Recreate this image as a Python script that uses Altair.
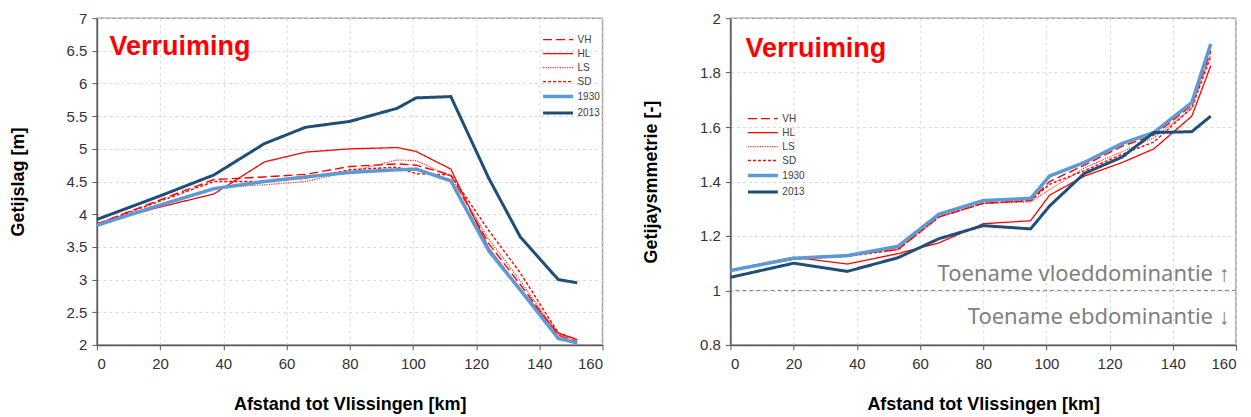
import altair as alt
import pandas as pd

# ---------------- data ----------------
KM = [0, 20, 37, 53, 66, 80, 95, 101, 112, 124, 134, 146, 152]
SERIES = ["VH", "HL", "LS", "SD", "1930", "2013"]

# Getijslag [m]
slag_VH = [3.85, 4.22, 4.53, 4.57, 4.61, 4.73, 4.77, 4.75, 4.60, 3.55, 2.92, 2.15, 2.05]
slag_HL = [3.85, 4.11, 4.31, 4.80, 4.95, 5.00, 5.02, 4.96, 4.69, 3.48, 2.85, 2.18, 2.08]
slag_LS = [3.85, 4.15, 4.40, 4.45, 4.50, 4.65, 4.83, 4.82, 4.58, 3.62, 2.98, 2.15, 2.05]
slag_SD = [3.85, 4.20, 4.50, 4.50, 4.55, 4.68, 4.72, 4.62, 4.60, 3.75, 3.10, 2.18, 2.08]
slag_1930 = [3.83, 4.14, 4.39, 4.50, 4.57, 4.64, 4.68, 4.69, 4.51, 3.44, 2.84, 2.10, 2.03]
slag_2013 = [3.92, 4.28, 4.60, 5.08, 5.33, 5.42, 5.62, 5.78, 5.80, 4.55, 3.65, 3.00, 2.95]

# Getijasymmetrie [-]
asym_VH = [1.075, 1.115, 1.130, 1.150, 1.270, 1.320, 1.330, 1.400, 1.460, 1.530, 1.570, 1.680, 1.880]
asym_HL = [1.075, 1.122, 1.097, 1.135, 1.175, 1.245, 1.256, 1.350, 1.420, 1.470, 1.520, 1.640, 1.825]
asym_LS = [1.075, 1.115, 1.125, 1.155, 1.270, 1.320, 1.325, 1.370, 1.450, 1.510, 1.560, 1.670, 1.870]
asym_SD = [1.075, 1.115, 1.125, 1.150, 1.270, 1.320, 1.330, 1.390, 1.440, 1.500, 1.545, 1.670, 1.860]
asym_1930 = [1.073, 1.118, 1.128, 1.162, 1.280, 1.330, 1.338, 1.420, 1.470, 1.540, 1.580, 1.690, 1.905]
asym_2013 = [1.048, 1.100, 1.070, 1.120, 1.190, 1.238, 1.226, 1.310, 1.430, 1.490, 1.580, 1.583, 1.640]

LEFT_TICKS = [2, 2.5, 3, 3.5, 4, 4.5, 5, 5.5, 6, 6.5, 7]
RIGHT_TICKS = [0.8, 1.0, 1.2, 1.4, 1.6, 1.8, 2.0]
X_TICKS = [0, 20, 40, 60, 80, 100, 120, 140, 160]

COLORS = ["#FF0000", "#FF0000", "#FF3030", "#FF0000", "#5B9BD5", "#1F4E79"]
DASHES = [[9, 4], [1, 0], [1.2, 1.2], [3, 2], [1, 0], [1, 0]]
WIDTHS = [1.4, 1.3, 1.2, 1.4, 3.5, 3.0]


def long_df(series_lists):
    rows = []
    for i, (name, vals) in enumerate(zip(SERIES, series_lists)):
        for k, v in zip(KM, vals):
            rows.append({"km": k, "val": v, "reeks": name, "ord": i})
    return pd.DataFrame(rows)


df_left = long_df([slag_VH, slag_HL, slag_LS, slag_SD, slag_1930, slag_2013])
df_right = long_df([asym_VH, asym_HL, asym_LS, asym_SD, asym_1930, asym_2013])

FONT = "Liberation Sans"
W, H = 506, 327


def panel(df, ydom, yticks, ytitle, fmt, legx, legy, ann):
    xs = alt.Scale(domain=[0, 160], nice=False)
    ys = alt.Scale(domain=ydom, nice=False, zero=False)
    xax = alt.Axis(values=X_TICKS, title="Afstand tot Vlissingen [km]", format="d")
    yax = alt.Axis(values=yticks, title=ytitle, format=fmt)
    x = alt.X("km:Q", scale=xs, axis=xax)
    y = alt.Y("val:Q", scale=ys, axis=yax)
    legend = alt.Legend(title=None, orient="none", legendX=legx, legendY=legy,
                        symbolType="M-2,0H2", symbolSize=225, labelFontSize=10,
                        labelFont=FONT, labelColor="#404040", rowPadding=0,
                        labelOffset=10, padding=0)
    lines = alt.Chart(df).mark_line().encode(
        x=x, y=y,
        color=alt.Color("reeks:O", scale=alt.Scale(type="ordinal", domain=SERIES, range=COLORS), legend=legend),
        strokeDash=alt.StrokeDash("reeks:O", scale=alt.Scale(type="ordinal", domain=SERIES, range=DASHES), legend=legend),
        strokeWidth=alt.StrokeWidth("reeks:O", scale=alt.Scale(type="ordinal", domain=SERIES, range=WIDTHS), legend=legend),
        order="ord:Q",
    )
    layers = [lines]
    for (kx, vy, txt, size, weight, color, align, font) in ann:
        tdf = pd.DataFrame({"km": [kx], "val": [vy], "t": [txt]})
        layers.append(alt.Chart(tdf).mark_text(
            align=align, baseline="alphabetic", fontSize=size, fontWeight=weight,
            color=color, font=font).encode(
            x=alt.X("km:Q", scale=xs, axis=xax),
            y=alt.Y("val:Q", scale=ys, axis=yax),
            text="t:N"))
    return layers, ys, yax


left_layers, _, _ = panel(df_left, [2, 7], LEFT_TICKS, "Getijslag [m]", ".1~f", 452, 13,
                          [(4, 6.43, "Verruiming", 27, "bold", "#FF0000", "left", FONT)])

right_layers, rys, ryax = panel(df_right, [0.8, 2.0], RIGHT_TICKS, "Getijaysmmetrie [-]", ".1~f", 23, 92,
                                [(4.75, 1.857, "Verruiming", 27, "bold", "#FF0000", "left", FONT),
                                 (158, 1.035, "Toename vloeddominantie \u2191", 22, "normal", "#808080", "right", "Noto Sans"),
                                 (158, 0.877, "Toename ebdominantie \u2193", 22, "normal", "#808080", "right", "Noto Sans")])

ref_df = pd.DataFrame({"val": [1.0]})
rule = alt.Chart(ref_df).mark_rule(color="#808080", strokeDash=[4, 3], strokeWidth=1).encode(
    y=alt.Y("val:Q", scale=rys, axis=ryax))

left = alt.layer(*left_layers).properties(width=W, height=H)
right = alt.layer(*right_layers, rule).properties(width=W, height=H)

chart = alt.hconcat(left, right, spacing=37).resolve_scale(
    color="independent", strokeDash="independent", strokeWidth="independent"
).properties(
    padding={"left": 0, "top": 2, "right": 5, "bottom": 0},
    background="white",
).configure_view(
    stroke="#a0a0a0", strokeWidth=1.5
).configure_axis(
    labelFont=FONT, labelFontSize=15, labelColor="#333333",
    titleFont=FONT, titleFontSize=18, titleFontWeight="bold", titleColor="#000000",
    domainColor="#595959", tickColor="#595959", domainWidth=1.5,
    tickSize=5, labelPadding=5,
    gridColor="#d9d9d9", gridDash=[3, 3], gridWidth=1,
).configure_axisY(
    titlePadding=39
).configure_axisX(
    titlePadding=24, labelPadding=7
)

chart.save("out.html", embed_options={"renderer": "svg", "actions": False})
